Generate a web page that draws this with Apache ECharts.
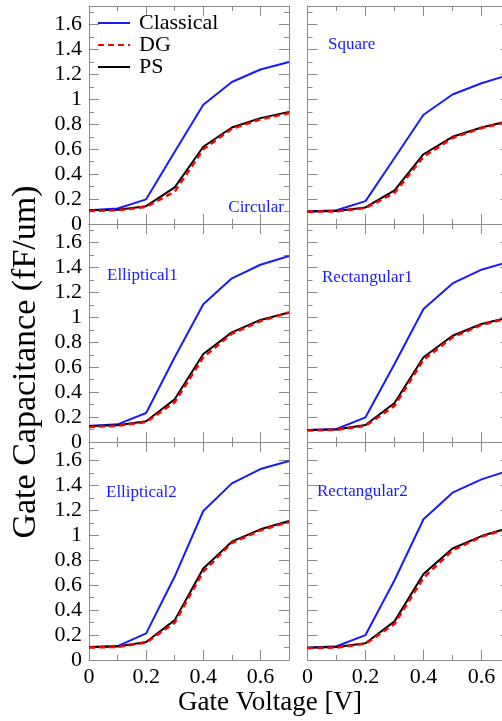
<!DOCTYPE html>
<html>
<head>
<meta charset="utf-8">
<script src="https://cdn.jsdelivr.net/npm/echarts@6/dist/echarts.min.js"></script>
<style>
body { margin: 0; background: #fff; }
#main { width: 502px; height: 721px; }
</style>
</head>
<body>
<div id="main"></div>
<script>
var volts = [0, 0.1, 0.2, 0.3, 0.4, 0.5, 0.6, 0.7];

var circularClassical = [0.11, 0.125, 0.198, 0.58, 0.958, 1.14, 1.24, 1.30];
var circularDG        = [0.105, 0.11, 0.138, 0.26, 0.60, 0.765, 0.84, 0.89];
var circularPS        = [0.11, 0.115, 0.143, 0.294, 0.62, 0.775, 0.85, 0.90];

var squareClassical = [0.10, 0.11, 0.184, 0.53, 0.877, 1.04, 1.13, 1.20];
var squareDG        = [0.098, 0.102, 0.128, 0.25, 0.54, 0.69, 0.77, 0.825];
var squarePS        = [0.10, 0.105, 0.133, 0.27, 0.56, 0.70, 0.775, 0.83];

var ellip1Classical = [0.128, 0.142, 0.233, 0.68, 1.105, 1.314, 1.423, 1.493];
var ellip1DG        = [0.12, 0.13, 0.16, 0.32, 0.68, 0.87, 0.97, 1.04];
var ellip1PS        = [0.128, 0.135, 0.166, 0.343, 0.706, 0.88, 0.98, 1.04];

var rect1Classical = [0.096, 0.104, 0.198, 0.626, 1.067, 1.273, 1.383, 1.45];
var rect1DG        = [0.092, 0.098, 0.13, 0.29, 0.66, 0.84, 0.94, 1.0];
var rect1PS        = [0.096, 0.1, 0.136, 0.313, 0.68, 0.853, 0.947, 1.005];

var ellip2Classical = [0.104, 0.112, 0.214, 0.67, 1.196, 1.418, 1.533, 1.597];
var ellip2DG        = [0.1, 0.105, 0.14, 0.30, 0.71, 0.94, 1.04, 1.11];
var ellip2PS        = [0.104, 0.108, 0.144, 0.32, 0.735, 0.95, 1.049, 1.116];

var rect2Classical = [0.099, 0.11, 0.20, 0.64, 1.13, 1.343, 1.45, 1.525];
var rect2DG        = [0.095, 0.10, 0.13, 0.29, 0.66, 0.88, 0.99, 1.06];
var rect2PS        = [0.099, 0.105, 0.134, 0.31, 0.69, 0.895, 0.995, 1.065];

var panelNames = ['Circular', 'Square', 'Elliptical1', 'Rectangular1', 'Elliptical2', 'Rectangular2'];
var panels = [
  [circularClassical, circularDG, circularPS],
  [squareClassical, squareDG, squarePS],
  [ellip1Classical, ellip1DG, ellip1PS],
  [rect1Classical, rect1DG, rect1PS],
  [ellip2Classical, ellip2DG, ellip2PS],
  [rect2Classical, rect2DG, rect2PS]
];

var FONT = '"Liberation Serif", "DejaVu Serif", serif';
var GRAY = '#8c8c8c';
var BLUE = '#1a1aff';

function pairs(ys) {
  return volts.map(function (v, i) { return [v, ys[i]]; });
}
function fmt(v) { return String(+(+v).toFixed(1)); }

var myChart = echarts.init(document.getElementById('main'));

var grids = [], xAxes = [], yAxes = [], series = [];
var colLeft = [89, 307.5], colWidth = [200, 203];
var rowTop = [6, 224, 442], rowH = 218;

for (var g = 0; g < 6; g++) {
  var r = Math.floor(g / 2), c = g % 2;
  grids.push({ left: colLeft[c], top: rowTop[r], width: colWidth[c], height: rowH, outerBoundsMode: 'none', containLabel: false });

  ['bottom', 'top'].forEach(function (pos) {
    // major ticks (with frame line)
    xAxes.push({
      type: 'value', gridIndex: g, position: pos, min: 0, max: 0.7, interval: 0.2,
      axisLine: { show: true, onZero: false, lineStyle: { color: GRAY, width: 1 } },
      axisTick: { show: true, inside: true, length: 10, lineStyle: { color: GRAY } },
      splitLine: { show: false },
      axisLabel: { show: pos == 'bottom' && r == 2, showMaxLabel: false, margin: 6, color: '#000', fontFamily: FONT, fontSize: 22, formatter: fmt }
    });
    // minor ticks
    xAxes.push({
      type: 'value', gridIndex: g, position: pos, min: 0, max: 0.7, interval: 0.1,
      axisLine: { show: false, onZero: false },
      axisTick: { show: true, inside: true, length: 5, lineStyle: { color: GRAY } },
      splitLine: { show: false }, axisLabel: { show: false }
    });
  });
  ['left', 'right'].forEach(function (pos) {
    yAxes.push({
      type: 'value', gridIndex: g, position: pos, min: 0, max: 1.75, interval: 0.2,
      axisLine: { show: true, onZero: false, lineStyle: { color: GRAY, width: 1 } },
      axisTick: { show: true, inside: true, length: 10, lineStyle: { color: GRAY } },
      splitLine: { show: false },
      axisLabel: { show: pos == 'left' && c == 0, showMaxLabel: false, margin: 7, color: '#000', fontFamily: FONT, fontSize: 22, formatter: fmt }
    });
    yAxes.push({
      type: 'value', gridIndex: g, position: pos, min: 0, max: 1.75, interval: 0.1,
      axisLine: { show: false, onZero: false },
      axisTick: { show: true, inside: true, length: 5, lineStyle: { color: GRAY } },
      splitLine: { show: false }, axisLabel: { show: false }
    });
  });

  var d = panels[g];
  series.push({ name: 'Classical', type: 'line', xAxisIndex: g * 4, yAxisIndex: g * 4, data: pairs(d[0]),
    symbol: 'none', lineStyle: { color: BLUE, width: 2 }, itemStyle: { color: BLUE } });
  series.push({ name: 'PS', type: 'line', xAxisIndex: g * 4, yAxisIndex: g * 4, data: pairs(d[2]),
    symbol: 'none', lineStyle: { color: '#000', width: 2 }, itemStyle: { color: '#000' } });
  series.push({ name: 'DG', type: 'line', xAxisIndex: g * 4, yAxisIndex: g * 4, data: pairs(d[1]),
    symbol: 'none', lineStyle: { color: '#ff0000', width: 2.5, type: [6, 4] }, itemStyle: { color: '#ff0000' } });
}

// panel name positions [x, y, align]
var namePos = [[284, 208, 'right'], [328, 45, 'left'], [107, 276, 'left'], [322, 278, 'left'], [106, 493, 'left'], [317, 492, 'left']];
var graphics = panelNames.map(function (n, i) {
  return { type: 'text', x: namePos[i][0], y: namePos[i][1], z: 10,
    style: { text: n, fill: BLUE, font: '17px ' + FONT, textAlign: namePos[i][2], textVerticalAlign: 'middle' } };
});
graphics.push({ type: 'text', x: 26, y: 362, rotation: Math.PI / 2,
  style: { text: 'Gate Capacitance (fF/um)', fill: '#000', font: '34px ' + FONT, textAlign: 'center', textVerticalAlign: 'middle' } });
graphics.push({ type: 'text', x: 270, y: 703,
  style: { text: 'Gate Voltage [V]', fill: '#000', font: '27px ' + FONT, textAlign: 'center', textVerticalAlign: 'middle' } });

var option = {
  backgroundColor: '#fff',
  animation: false,
  legend: {
    data: ['Classical', 'DG', 'PS'], orient: 'vertical', left: 97, top: 12, padding: 0,
    itemWidth: 32, itemHeight: 12, itemGap: 0,
    itemStyle: { opacity: 0 },
    textStyle: { fontFamily: FONT, fontSize: 22, color: '#000', padding: [0, 0, 0, 4] }
  },
  grid: grids,
  xAxis: xAxes,
  yAxis: yAxes,
  series: series,
  graphic: graphics
};
myChart.setOption(option);
</script>
</body>
</html>
